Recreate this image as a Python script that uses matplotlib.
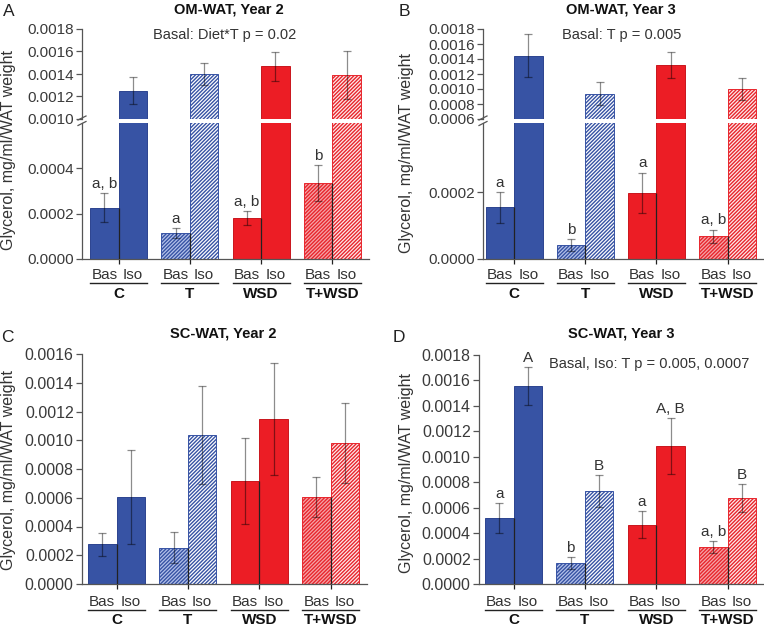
import matplotlib
matplotlib.use('Agg')
import matplotlib.pyplot as plt
import matplotlib.transforms as mtransforms
from matplotlib.lines import Line2D
import numpy as np

plt.rcParams['font.family'] = ['Liberation Sans', 'DejaVu Sans']
plt.rcParams['hatch.linewidth'] = 1.0

W, H = 764, 630
PT = 0.72  # points per pixel at dpi 100

groups = ['C', 'T', 'WSD', 'T+WSD']

# OM-WAT, Year 2
a_bas = [0.000227, 0.000116, 0.000182, 0.000335]
a_bas_err = [0.000065, 0.000022, 0.000030, 0.000080]
a_iso = [0.001253, 0.001401, 0.001467, 0.001393]
a_iso_err = [0.000120, 0.000098, 0.000125, 0.000212]
a_bas_lab = ['a, b', 'a', 'a, b', 'b']

# OM-WAT, Year 3
b_bas = [0.000154, 0.0000414, 0.000198, 0.000068]
b_bas_err = [0.000046, 0.000018, 0.000060, 0.000020]
b_iso = [0.001444, 0.000939, 0.001319, 0.000997]
b_iso_err = [0.000290, 0.000150, 0.000174, 0.000150]
b_bas_lab = ['a', 'b', 'a', 'a, b']

# SC-WAT, Year 2
c_bas = [0.000276, 0.000253, 0.000719, 0.000603]
c_bas_err = [0.000078, 0.000110, 0.000300, 0.000140]
c_iso = [0.000605, 0.001039, 0.001148, 0.000981]
c_iso_err = [0.000330, 0.000340, 0.000390, 0.000280]

# SC-WAT, Year 3
d_bas = [0.000518, 0.000165, 0.000466, 0.000291]
d_bas_err = [0.000115, 0.000047, 0.000105, 0.000045]
d_iso = [0.001558, 0.000728, 0.001081, 0.000675]
d_iso_err = [0.000150, 0.000126, 0.000220, 0.000110]
d_bas_lab = ['a', 'b', 'a', 'a, b']
d_iso_lab = ['A', 'B', 'A, B', 'B']

# bar looks per group
face_bas = ['#3753a4', '#b4c2ea', '#ec1d25', '#f5a6a9']
face_iso = ['#3753a4', 'white', '#ec1d25', '#fdeaea']
edge_col = ['#2c438f', '#3753a4', '#c9161d', '#e8262d']
hatch_bas = [None, '/' * 9, None, '/' * 9]
hatch_iso = [None, '/' * 9, None, '/' * 9]

TXT = '#333333'
SP = '#555555'

fig = plt.figure(figsize=(W / 100, H / 100), dpi=100)


def rect(l, t, r, b):
    return [l / W, 1 - b / H, (r - l) / W, (b - t) / H]


def style_axis(ax, fs):
    for s in ['top', 'right']:
        ax.spines[s].set_visible(False)
    for s in ['left', 'bottom']:
        ax.spines[s].set_color(SP)
        ax.spines[s].set_linewidth(0.9)
    ax.tick_params(axis='y', direction='out', length=4, width=0.9, color=SP,
                   labelsize=fs, labelcolor='#3a3a3a', pad=2)
    ax.tick_params(axis='x', direction='out', length=3.5, width=0.9, color='#222222')
    ax.yaxis.set_major_formatter(plt.FormatStrFormatter('%.4f'))


def bars(ax, bas, bas_err, iso, iso_err):
    x = np.arange(len(groups))
    for i in range(len(groups)):
        ax.bar(x[i] - 0.2, bas[i], 0.4, color=face_bas[i], edgecolor=edge_col[i],
               hatch=hatch_bas[i], linewidth=0.7, zorder=2)
        ax.bar(x[i] + 0.2, iso[i], 0.4, color=face_iso[i], edgecolor=edge_col[i],
               hatch=hatch_iso[i], linewidth=0.7, zorder=2)
    ax.vlines(x, 0, bas, color='#222222', linewidth=0.9, zorder=3)
    ax.errorbar(x - 0.2, bas, yerr=bas_err, fmt='none', ecolor='#000000', alpha=0.45,
                elinewidth=0.9, capsize=3, capthick=0.9, zorder=4)
    ax.errorbar(x + 0.2, iso, yerr=iso_err, fmt='none', ecolor='#000000', alpha=0.45,
                elinewidth=0.9, capsize=3, capthick=0.9, zorder=4)
    ax.set_xticks(x)
    ax.set_xticklabels([])


def letters(ax, xs, vals, errs, labs):
    for xx, v, e, lab in zip(xs, vals, errs, labs):
        ax.annotate(lab, xy=(xx, v + e), xytext=(0, 1.5), textcoords='offset points',
                    ha='center', va='bottom', fontsize=11, color=TXT, zorder=5)


def group_labels(ax, off):
    x = np.arange(len(groups))
    base = ax.get_xaxis_transform()
    t1 = mtransforms.offset_copy(base, fig=fig, y=-off[1] * PT, units='points')
    for xx, g in zip(x, groups):
        ax.annotate('Bas', xy=(xx - 0.2, 0), xycoords=('data', 'axes fraction'),
                    xytext=(0, -off[0] * PT), textcoords='offset points',
                    ha='center', va='center', fontsize=11, color=TXT)
        ax.annotate('Iso', xy=(xx + 0.2, 0), xycoords=('data', 'axes fraction'),
                    xytext=(0, -off[0] * PT), textcoords='offset points',
                    ha='center', va='center', fontsize=11, color=TXT)
        ax.plot([xx - 0.4, xx + 0.4], [0, 0], color='#222222', linewidth=1.0,
                transform=t1, clip_on=False)
        ax.annotate(g, xy=(xx, 0), xycoords=('data', 'axes fraction'),
                    xytext=(0, -off[2] * PT), textcoords='offset points',
                    ha='center', va='center', fontsize=11, fontweight='bold', color='#111111')


def broken_panel(l, r, top, gap_top, gap_bot, bottom, up_lim, up_ticks, lo_lim, lo_ticks, xlim,
                 bas, bas_err, iso, iso_err):
    ax_up = fig.add_axes(rect(l, top, r, gap_top))
    ax_lo = fig.add_axes(rect(l, gap_bot, r, bottom))
    for ax in (ax_up, ax_lo):
        style_axis(ax, 11)
        bars(ax, bas, bas_err, iso, iso_err)
        ax.set_xlim(*xlim)
    ax_up.set_ylim(*up_lim)
    ax_up.set_yticks(up_ticks)
    ax_up.spines['bottom'].set_visible(False)
    ax_up.tick_params(axis='x', length=0)
    ax_lo.set_ylim(*lo_lim)
    ax_lo.set_yticks(lo_ticks)
    # break marks on the y axis
    for yy in (gap_top - 1, gap_bot + 0.5):
        fig.add_artist(Line2D([(l - 4) / W, (l + 4) / W], [1 - (yy + 2) / H, 1 - (yy - 2) / H],
                              color=SP, linewidth=0.9))
    return ax_up, ax_lo


def panel_text(letter, lx, ly, title, tx, ty, ylab_x, ylab_y):
    fig.text(lx / W, 1 - ly / H, letter, fontsize=12.5, ha='center', va='center', color='#222222')
    fig.text(tx / W, 1 - ty / H, title, fontsize=10.5, fontweight='bold', ha='center',
             va='center', color='#111111')
    fig.text(ylab_x / W, 1 - ylab_y / H, 'Glycerol, mg/ml/WAT weight', fontsize=11.5,
             rotation=90, ha='center', va='center', color=TXT)


x = np.arange(len(groups))

# Panel A
a_up, a_lo = broken_panel(82, 369, 29, 119, 123, 259, (0.0010, 0.0018),
                          np.arange(0.0010, 0.00181, 0.0002), (0, 0.0006), [0, 0.0002, 0.0004],
                          (-0.513, 3.513), a_bas, a_bas_err, a_iso, a_iso_err)
letters(a_lo, x - 0.2, a_bas, a_bas_err, a_bas_lab)
group_labels(a_lo, (16, 24, 35))
panel_text('A', 9, 11, 'OM-WAT, Year 2', 229, 9, 9, 150)
fig.text(225 / W, 1 - 35 / H, 'Basal: Diet*T p = 0.02', fontsize=10.5, ha='center',
         va='center', color=TXT)

# Panel B
b_up, b_lo = broken_panel(483, 764, 29, 119, 123, 259, (0.0006, 0.0018),
                          np.arange(0.0006, 0.00181, 0.0002), (0, 0.000406), [0, 0.0002],
                          (-0.436, 3.51), b_bas, b_bas_err, b_iso, b_iso_err)
letters(b_lo, x - 0.2, b_bas, b_bas_err, b_bas_lab)
group_labels(b_lo, (16, 24, 35))
panel_text('B', 404, 11, 'OM-WAT, Year 3', 621, 9, 407, 153)
fig.text(622 / W, 1 - 35 / H, 'Basal: T p = 0.005', fontsize=10.5, ha='center',
         va='center', color=TXT)

# Panel C
ax_c = fig.add_axes(rect(82, 354, 367, 584))
style_axis(ax_c, 11.5)
bars(ax_c, c_bas, c_bas_err, c_iso, c_iso_err)
ax_c.set_xlim(-0.484, 3.51)
ax_c.set_ylim(0, 0.0016)
ax_c.set_yticks(np.arange(0, 0.00161, 0.0002))
group_labels(ax_c, (18, 26, 36))
panel_text('C', 7, 337, 'SC-WAT, Year 2', 223, 333, 9, 470)

# Panel D
ax_d = fig.add_axes(rect(479, 355, 764, 584))
style_axis(ax_d, 11.5)
bars(ax_d, d_bas, d_bas_err, d_iso, d_iso_err)
ax_d.set_xlim(-0.484, 3.51)
ax_d.set_ylim(0, 0.0018)
ax_d.set_yticks(np.arange(0, 0.00181, 0.0002))
letters(ax_d, x - 0.2, d_bas, d_bas_err, d_bas_lab)
letters(ax_d, x + 0.2, d_iso, d_iso_err, d_iso_lab)
group_labels(ax_d, (18, 26, 36))
panel_text('D', 399, 337, 'SC-WAT, Year 3', 621, 333, 407, 473)
fig.text(649 / W, 1 - 364 / H, 'Basal, Iso: T p = 0.005, 0.0007', fontsize=10.5, ha='center',
         va='center', color=TXT)

fig.savefig('out.png', dpi=100)
